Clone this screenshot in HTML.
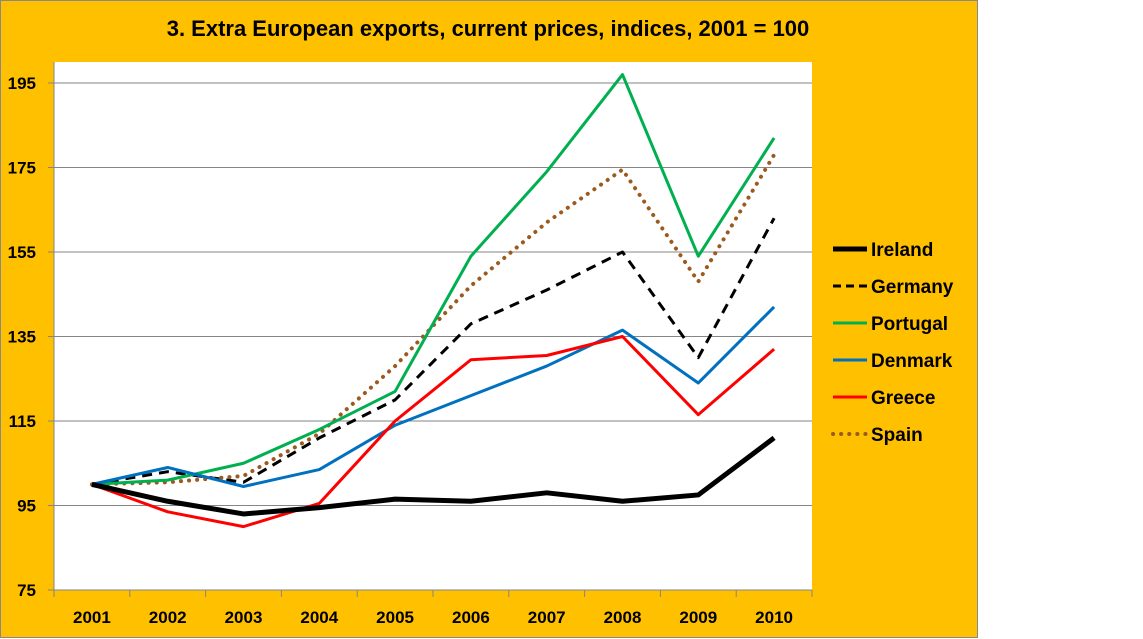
<!DOCTYPE html>
<html><head><meta charset="utf-8"><style>
html,body{margin:0;padding:0;background:#fff;}
svg{display:block;font-family:"Liberation Sans",sans-serif;font-weight:bold;}
</style></head><body>
<svg width="1143" height="639">
<rect x="0.5" y="0.5" width="977" height="637" fill="#FFC000" stroke="#888"/>
<text x="488" y="36" text-anchor="middle" font-size="22">3. Extra European exports, current prices, indices, 2001 = 100</text>
<rect x="54" y="62" width="758" height="528" fill="#fff"/>
<g id="grid"></g><g id="axes"></g><g id="series"></g><g id="legend"></g>
</svg>
<script>
const years=["2001","2002","2003","2004","2005","2006","2007","2008","2009","2010"];
const yTicks=[75,95,115,135,155,175,195];
const ireland=[100,96,93,94.5,96.5,96,98,96,97.5,111];
const germany=[100,103,100.5,111,120,138,146,155,130,163];
const portugal=[100,101,105,113,122,154,174,197,154,182];
const denmark=[100,104,99.5,103.5,114,121,128,136.5,124,142];
const greece=[100,93.5,90,95.5,115,129.5,130.5,135,116.5,132];
const spain=[100,100.5,102,112,128,147,162,174.5,148,178];
const NS="http://www.w3.org/2000/svg";
const x0=54,x1=812,bw=(x1-x0)/years.length;
const xs=i=>x0+bw*(i+0.5);
const ys=v=>590-(v-75)*(590-83)/120;
function mk(tag,attrs,parent,txt){const e=document.createElementNS(NS,tag);for(const k in attrs)e.setAttribute(k,attrs[k]);if(txt!==undefined)e.textContent=txt;document.getElementById(parent).appendChild(e);return e;}
yTicks.forEach(t=>{
  if(t>75){const g=mk('line',{x1:x0,x2:x1,y1:ys(t),y2:ys(t),stroke:'#868686','stroke-width':1},'grid');
  
  }
  const tk=mk('line',{x1:x0-6,x2:x0,y1:ys(t),y2:ys(t),stroke:'#868686'},'axes');
  
  
  const l=mk('text',{x:36,y:ys(t)+6,'text-anchor':'end','font-size':17},'axes',t);
  
  
});
const ya=mk('line',{x1:x0,x2:x0,y1:62,y2:590,stroke:'#868686'},'axes');


const xa=mk('line',{x1:x0,x2:x1,y1:590,y2:590,stroke:'#868686'},'axes');


for(let i=0;i<=years.length;i++){const t=mk('line',{x1:x0+bw*i,x2:x0+bw*i,y1:590,y2:597,stroke:'#868686'},'axes');

}
years.forEach((y,i)=>{const l=mk('text',{x:xs(i),y:623,'text-anchor':'middle','font-size':17},'axes',y);

});
const series=[
 {n:'Ireland',d:ireland,c:'#000',w:5,da:''},
 {n:'Germany',d:germany,c:'#000',w:3,da:'10,7'},
 {n:'Portugal',d:portugal,c:'#00B050',w:3,da:''},
 {n:'Denmark',d:denmark,c:'#0070C0',w:3,da:''},
 {n:'Greece',d:greece,c:'#FF0000',w:3,da:''},
 {n:'Spain',d:spain,c:'#9C5A1E',w:4,da:'0.1,8'}];
[1,5,2,3,4,0].forEach(k=>{const s=series[k];
 const p=mk('polyline',{points:s.d.map((v,i)=>xs(i)+','+ys(v)).join(' '),fill:'none',stroke:s.c,'stroke-width':s.w,'stroke-dasharray':s.da,'stroke-linecap':s.da==='0.1,8'?'round':'butt','stroke-linejoin':'round'},'series');
 
 });
series.forEach((s,i)=>{const y=249+i*37;
 const l=mk('line',{x1:833,x2:867,y1:y,y2:y,stroke:s.c,'stroke-width':s.w,'stroke-dasharray':s.da==='0.1,8'?'0.1,8':(s.da?'8,5':''),'stroke-linecap':s.da==='0.1,8'?'round':'butt'},'legend');
 
 
 const t=mk('text',{x:871,y:y+7,'font-size':19},'legend',s.n);
 
 });
</script>
</body></html>
